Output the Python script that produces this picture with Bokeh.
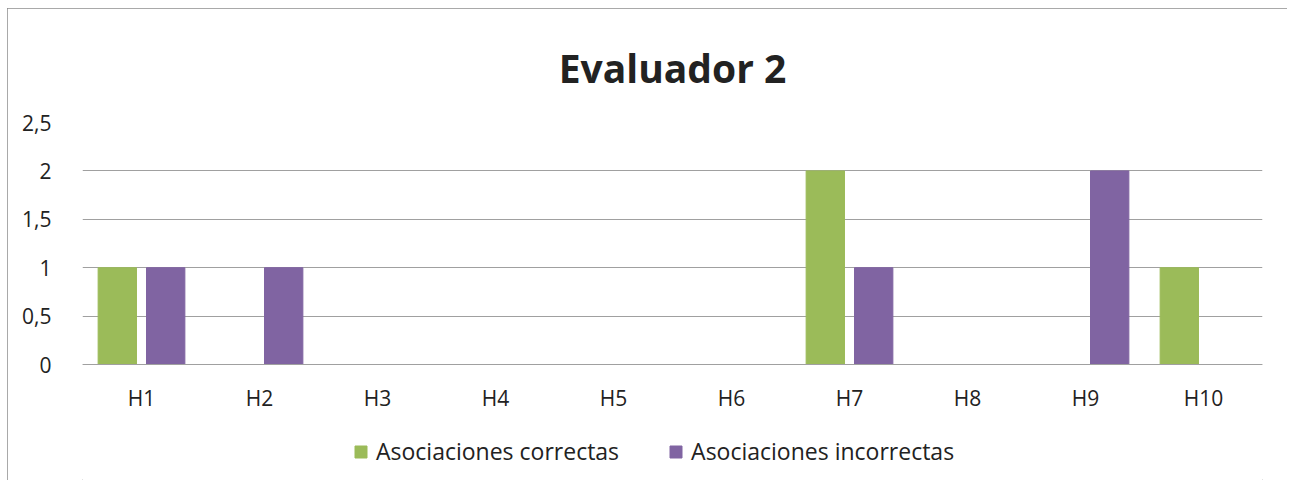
from bokeh.plotting import figure
from bokeh.models import (FactorRange, Range1d, FixedTicker, CustomJSTickFormatter, Legend,
                          LegendItem, CategoricalAxis)
from bokeh.transform import dodge
from bokeh.embed import file_html
from bokeh.resources import INLINE

categories = ["H1", "H2", "H3", "H4", "H5", "H6", "H7", "H8", "H9", "H10"]
correctas = [1, 0, 0, 0, 0, 0, 2, 0, 0, 1]
incorrectas = [1, 1, 0, 0, 0, 0, 1, 0, 2, 0]
series_names = ["Asociaciones correctas", "Asociaciones incorrectas"]
y_ticks = [0, 0.5, 1, 1.5, 2, 2.5]
title_text = "Evaluador 2"

FONT = "Open Sans"
GREEN = "#9BBB59"
PURPLE = "#8064A2"
GRID = "#a0a0a0"
PX_PER_UNIT = 242 / 2.5
FRAME_H = 358

p = figure(frame_width=1180, frame_height=FRAME_H, x_range=FactorRange(*categories),
           y_range=Range1d(2.5 - FRAME_H / PX_PER_UNIT, 2.5),
           output_backend="svg", toolbar_location=None, title=title_text, x_axis_location=None,
           min_border_left=75, min_border_right=25, min_border_top=114, min_border_bottom=0)
p.styles = {"outline": "1px solid #8c8c8c", "outline-offset": "-1px",
            "margin-left": "7px", "margin-top": "8px"}
p.outline_line_color = None
p.x_range.range_padding = 0
p.x_range.group_padding = 0

p.title.align = "center"
p.title.offset = -25
p.title.text_font = FONT
p.title.text_font_size = "39px"
p.title.text_font_style = "bold"
p.title.text_color = "#222222"
p.title.standoff = 58

src = dict(cat=categories, c=correctas, i=incorrectas)
r1 = p.vbar(x=dodge("cat", -0.205, range=p.x_range), top="c", width=0.325, source=src,
            fill_color=GREEN, line_color=GREEN)
r2 = p.vbar(x=dodge("cat", 0.205, range=p.x_range), top="i", width=0.325, source=src,
            fill_color=PURPLE, line_color=PURPLE)

p.xgrid.grid_line_color = None
p.ygrid.ticker = FixedTicker(ticks=y_ticks)
p.ygrid.grid_line_color = GRID
p.ygrid.grid_line_width = 1
p.ygrid.level = "underlay"

p.yaxis.ticker = FixedTicker(ticks=y_ticks)
p.yaxis.formatter = CustomJSTickFormatter(code="return tick.toString().replace('.', ',');")
p.yaxis.axis_line_color = None
p.yaxis.major_tick_line_color = None
p.yaxis.minor_tick_line_color = None
p.yaxis.major_label_standoff = 25
p.yaxis.major_label_text_font = FONT
p.yaxis.major_label_text_font_size = "21px"
p.yaxis.major_label_text_color = "#222222"

xaxis = CategoricalAxis(fixed_location=0)
xaxis.axis_line_color = GRID
xaxis.major_tick_line_color = None
xaxis.minor_tick_line_color = None
xaxis.major_label_standoff = 13
xaxis.major_label_text_font = FONT
xaxis.major_label_text_font_size = "21px"
xaxis.major_label_text_color = "#222222"
p.add_layout(xaxis, "below")

legend = Legend(items=[LegendItem(label=series_names[0], renderers=[r1]),
                       LegendItem(label=series_names[1], renderers=[r2])],
                orientation="horizontal", location=(271, 13),
                label_text_font=FONT, label_text_font_size="23px", label_text_color="#222222",
                glyph_width=15, glyph_height=15, spacing=49, label_standoff=8,
                border_line_color=None, background_fill_alpha=0, margin=0, padding=0)
p.add_layout(legend, "center")

open("out.html", "w").write(file_html(p, INLINE))
